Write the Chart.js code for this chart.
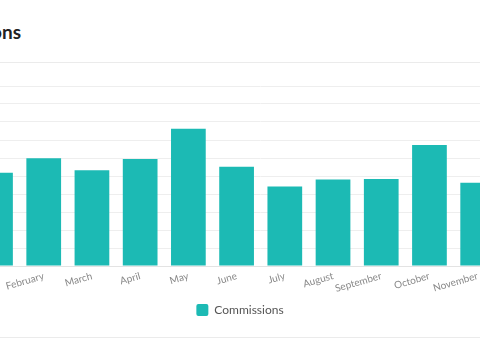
<!DOCTYPE html>
<html>
<head>
<meta charset="utf-8">
<script src="https://cdn.jsdelivr.net/npm/chart.js@4.4.0/dist/chart.umd.min.js"></script>
<style>
  html, body { margin: 0; padding: 0; background: #fff; }
  #card { position: relative; width: 480px; height: 360px; overflow: hidden; background: #fff; }
  #title { position: absolute; right: calc(100% - 21px); top: 20px; font: bold 19px Lato, sans-serif; color: #222; white-space: nowrap; }
  .rule { position: absolute; left: 0; width: 480px; height: 1px; background: #ebebeb; }
  #wrap { position: absolute; left: -70px; top: 76px; width: 630px; height: 250px; }
</style>
</head>
<body>
<div id="card">
  <div id="title">Commissions</div>
  <div class="rule" style="top:62px"></div>
  <div id="wrap"><canvas id="chart-commissions"></canvas></div>
  <div class="rule" style="top:337px"></div>
</div>
<script>
var months = ["January", "February", "March", "April", "May", "June", "July", "August", "September", "October", "November", "December"];
var commissions = [518, 598, 532, 594, 763, 552, 441, 480, 483, 672, 463, 500];
var yMax = 1000;
var yStep = 100;

var ctx = document.getElementById("chart-commissions").getContext("2d");
var chart = new Chart(ctx, {
  type: "bar",
  data: {
    labels: months,
    datasets: [
      {
        label: "Commissions",
        data: commissions,
        backgroundColor: "#1cbab4",
        borderWidth: 0,
      },
    ],
  },
  options: {
    responsive: true,
    maintainAspectRatio: false,
    animation: false,
    layout: {
      padding: { top: 10, right: 10, left: 0, bottom: 0 },
    },
    plugins: {
      legend: {
        position: "bottom",
        labels: {
          boxWidth: 12,
          boxHeight: 12,
          useBorderRadius: true,
          borderRadius: 2,
          color: "#555",
          font: { size: 12, family: "Lato" },
        },
      },
      tooltip: { enabled: false },
    },
    scales: {
      y: {
        min: 0,
        max: yMax,
        afterFit: function (scale) {
          scale.width = 41.4;
        },
        border: { display: false },
        grid: {
          color: "#eeeeee",
          drawTicks: false,
        },
        ticks: {
          stepSize: yStep,
          color: "#888",
          font: { size: 10, family: "Lato" },
        },
      },
      x: {
        afterFit: function (scale) {
          scale.height = 28;
        },
        border: { display: true, color: "#e3e3e3" },
        grid: { display: false, drawTicks: false },
        ticks: {
          autoSkip: false,
          minRotation: 16,
          maxRotation: 16,
          padding: 4,
          color: "#888",
          font: { size: 10, family: "Lato" },
        },
      },
    },
  },
});
</script>
</body>
</html>
